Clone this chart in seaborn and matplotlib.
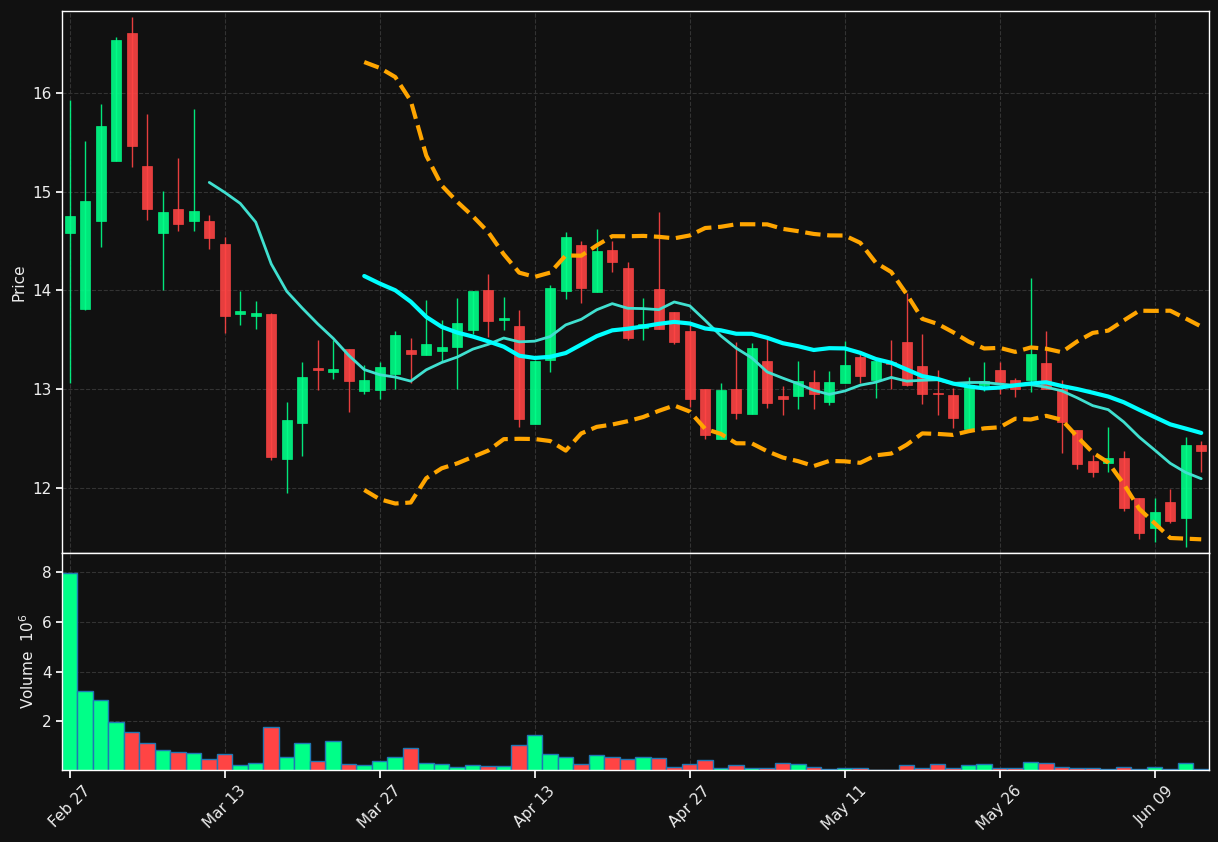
import matplotlib
matplotlib.use('Agg')
import matplotlib.pyplot as plt
import seaborn as sns
import numpy as np
import pandas as pd

##################################################################
# Kursdaten, ein Eintrag pro Handelstag

opens = [14.58, 13.81, 14.70, 15.31, 16.61, 15.26, 14.58, 14.82, 14.70, 14.70,
         14.47, 13.76, 13.74, 13.76, 12.29, 12.66, 13.21, 13.17, 13.41, 12.98,
         12.99, 13.15, 13.40, 13.35, 13.39, 13.43, 13.60, 14.00, 13.70, 13.64,
         12.65, 13.30, 13.99, 14.46, 13.98, 14.41, 14.23, 13.62, 14.01, 13.78,
         13.59, 13.00, 12.49, 13.00, 12.75, 13.29, 12.93, 12.93, 13.07, 12.87,
         13.06, 13.33, 13.09, 13.27, 13.48, 13.23, 12.96, 12.94, 12.60, 13.04,
         13.19, 13.09, 13.09, 13.26, 13.00, 12.59, 12.27, 12.25, 12.30, 11.90,
         11.59, 11.86, 11.69, 12.43]
highs = [15.93, 15.51, 15.89, 16.57, 16.77, 15.79, 15.01, 15.34, 15.84, 14.76,
         14.54, 13.99, 13.89, 13.77, 12.87, 13.27, 13.50, 13.50, 13.41, 13.24,
         13.27, 13.59, 13.52, 13.90, 13.70, 13.92, 13.99, 14.17, 13.93, 13.80,
         13.30, 14.05, 14.59, 14.50, 14.62, 14.50, 14.29, 13.92, 14.79, 13.78,
         13.65, 13.00, 13.06, 13.48, 13.47, 13.51, 13.03, 13.29, 13.19, 13.18,
         13.49, 13.38, 13.30, 13.50, 13.97, 13.56, 13.19, 13.01, 13.12, 13.27,
         13.28, 13.11, 14.13, 13.59, 13.09, 12.59, 12.33, 12.62, 12.37, 11.90,
         11.90, 11.99, 12.52, 12.47]
lows = [13.06, 13.80, 14.44, 15.31, 15.25, 14.71, 14.00, 14.60, 14.60, 14.42,
        13.57, 13.65, 13.61, 12.28, 11.95, 12.32, 12.99, 13.10, 12.77, 12.95,
        12.90, 13.00, 13.06, 13.35, 13.29, 13.00, 13.56, 13.53, 13.60, 12.62,
        12.65, 13.17, 13.91, 13.87, 13.98, 14.19, 13.50, 13.50, 13.61, 13.46,
        12.82, 12.50, 12.49, 12.70, 12.75, 12.81, 12.74, 12.80, 12.80, 12.84,
        13.06, 13.06, 12.91, 13.00, 13.03, 12.85, 12.74, 12.61, 12.60, 12.98,
        12.95, 12.92, 12.97, 13.00, 12.35, 12.19, 12.11, 12.16, 11.77, 11.48,
        11.45, 11.64, 11.40, 12.16]
closes = [14.75, 14.91, 15.67, 16.54, 15.46, 14.82, 14.79, 14.67, 14.80, 14.53,
          13.74, 13.79, 13.77, 12.31, 12.69, 13.12, 13.19, 13.20, 13.08, 13.09,
          13.22, 13.55, 13.36, 13.46, 13.43, 13.67, 13.99, 13.69, 13.72, 12.70,
          13.29, 14.02, 14.54, 14.02, 14.40, 14.29, 13.52, 13.66, 13.61, 13.48,
          12.90, 12.54, 12.99, 12.76, 13.42, 12.86, 12.90, 13.08, 12.95, 13.07,
          13.24, 13.13, 13.29, 13.25, 13.04, 12.95, 12.95, 12.71, 13.04, 13.08,
          13.07, 13.00, 13.36, 13.00, 12.67, 12.24, 12.16, 12.30, 11.80, 11.54,
          11.76, 11.66, 12.43, 12.37]
# Volumen in Mio.
volumes = [7.98, 3.20, 2.87, 1.98, 1.58, 1.11, 0.83, 0.75, 0.71, 0.47,
           0.67, 0.22, 0.30, 1.76, 0.55, 1.11, 0.40, 1.19, 0.26, 0.22,
           0.38, 0.55, 0.91, 0.30, 0.26, 0.14, 0.22, 0.18, 0.18, 1.03,
           1.43, 0.67, 0.55, 0.26, 0.63, 0.55, 0.49, 0.55, 0.50, 0.17,
           0.26, 0.42, 0.13, 0.22, 0.13, 0.13, 0.30, 0.26, 0.17, 0.09,
           0.13, 0.13, 0.05, 0.05, 0.22, 0.13, 0.26, 0.13, 0.22, 0.26,
           0.13, 0.13, 0.34, 0.30, 0.17, 0.13, 0.13, 0.09, 0.17, 0.09,
           0.17, 0.09, 0.30, 0.09]

tick_labels = ['Feb 27', 'Mar 13', 'Mar 27', 'Apr 13', 'Apr 27', 'May 11', 'May 26', 'Jun 09']

##################################################################

df = pd.DataFrame({'open': opens, 'high': highs, 'low': lows, 'close': closes, 'volume': volumes})
df['idx'] = np.arange(len(df))
df['dir'] = np.where(df['close'] >= df['open'], 'up', 'down')

# Indikatoren wie im Original aus den Schlusskursen
df['ma10'] = df['close'].rolling(10).mean()
df['ma20'] = df['close'].rolling(20).mean()
std20 = df['close'].rolling(20).std(ddof=0)
df['bb_up'] = df['ma20'] + 2 * std20
df['bb_low'] = df['ma20'] - 2 * std20

# Farben
bg = '#111111'
up_col = '#00ff88'
down_col = '#ff4444'
grid_col = '#333333'
txt_col = '#eeeeee'

sns.set_theme(style='dark', rc={
    'axes.facecolor': bg, 'figure.facecolor': bg,
    'axes.edgecolor': 'white', 'axes.labelcolor': txt_col,
    'xtick.color': txt_col, 'ytick.color': txt_col,
    'grid.color': grid_col, 'grid.linestyle': '--', 'grid.linewidth': 0.8,
    'xtick.bottom': True, 'ytick.left': True,
})
plt.rcParams['font.family'] = ['DejaVu Sans']

fig = plt.figure(figsize=(12.18, 8.42), dpi=100)
ax_p = fig.add_axes([0.0509, 0.3432, 0.9417, 0.6437])
ax_v = fig.add_axes([0.0509, 0.0855, 0.9417, 0.2577], sharex=ax_p)

# Kerzen
colors = df['dir'].map({'up': up_col, 'down': down_col})
body_low = df[['open', 'close']].min(axis=1)
body_h = (df['close'] - df['open']).abs()
ax_p.vlines(df['idx'], df['low'], df['high'], colors=colors, linewidth=1.0, alpha=0.9, zorder=2)
ax_p.bar(df['idx'], body_h, bottom=body_low, width=0.65, color=colors, edgecolor=colors,
         linewidth=0.5, alpha=0.9, zorder=3)

# gleitende Durchschnitte und Bollinger-Baender
sns.lineplot(data=df, x='idx', y='ma10', color='#40e0d0', linewidth=2, ax=ax_p, zorder=4)
sns.lineplot(data=df, x='idx', y='ma20', color='#00ffff', linewidth=3, ax=ax_p, zorder=4)
sns.lineplot(data=df, x='idx', y='bb_up', color='#ffa500', linewidth=3, linestyle='--', ax=ax_p, zorder=4)
sns.lineplot(data=df, x='idx', y='bb_low', color='#ffa500', linewidth=3, linestyle='--', ax=ax_p, zorder=4)

# Volumen
sns.barplot(data=df, x='idx', y='volume', hue='dir', palette={'up': up_col, 'down': down_col},
            native_scale=True, width=1.0, dodge=False, saturation=1, edgecolor='#1f77b4',
            linewidth=1, errorbar=None, legend=False, ax=ax_v)

# Achsen
ax_p.set_xlim(-0.5, len(df) - 0.5)
ax_p.set_ylim(11.34, 16.83)
ax_v.set_ylim(0.03, 8.78)
ax_p.set_yticks([12, 13, 14, 15, 16])
ax_v.set_yticks([2, 4, 6, 8])
ticks = np.arange(0, len(df), 10)
ax_v.set_xticks(ticks)
ax_v.set_xticklabels(tick_labels, rotation=45, ha='center', fontsize=11)
plt.setp(ax_p.get_xticklabels(), visible=False)
ax_p.tick_params(axis='x', length=0)

for ax in (ax_p, ax_v):
    ax.grid(True, which='major', axis='both')
    ax.tick_params(axis='y', labelsize=11, length=4, color='white')
    ax.tick_params(axis='x', color='white')
    for s in ax.spines.values():
        s.set_color('white')
        s.set_linewidth(1.0)

ax_p.set_ylabel('Price', fontsize=11)
ax_v.set_ylabel('Volume  $10^{6}$', fontsize=11)
ax_p.set_xlabel('')
ax_v.set_xlabel('')
ax_p.yaxis.set_label_coords(-0.031, 0.5)
ax_v.yaxis.set_label_coords(-0.022, 0.5)

plt.savefig('out.png', dpi=100, facecolor=bg)
